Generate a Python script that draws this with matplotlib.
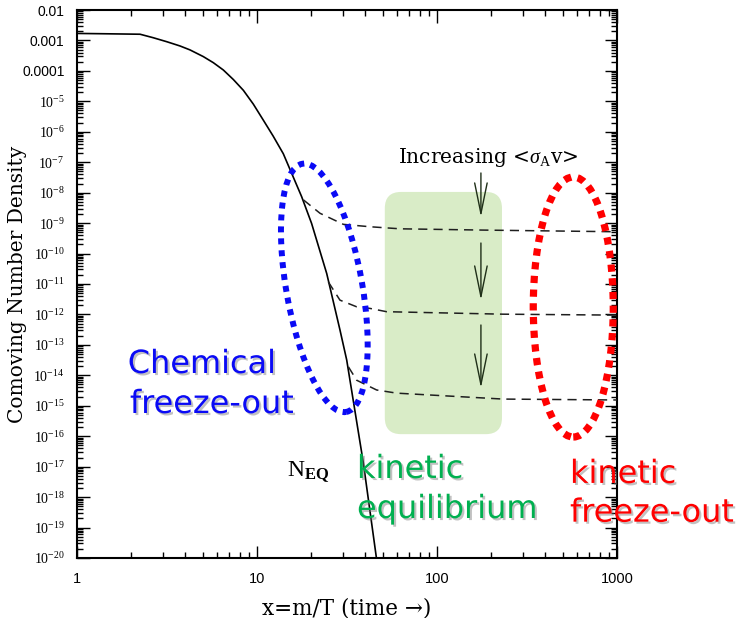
import numpy as np
import matplotlib
matplotlib.use("Agg")
import matplotlib.pyplot as plt
import matplotlib.patheffects as pe
from matplotlib.patches import Ellipse, FancyBboxPatch
from matplotlib.transforms import ScaledTranslation
from matplotlib.ticker import FixedLocator, LogLocator, NullFormatter

plt.rcParams['mathtext.fontset'] = 'custom'
plt.rcParams['mathtext.rm'] = 'Liberation Serif'
plt.rcParams['mathtext.it'] = 'Liberation Serif:italic'
plt.rcParams['mathtext.bf'] = 'Liberation Serif:bold'

# ---- data ----
x_eq = [1.0, 1.40, 2.24, 2.65, 3.15, 3.73, 4.24, 5.03, 5.72, 6.5, 7.39, 8.4, 9.54,
        10.8, 12.3, 14.0, 17.7, 20.1, 24.4, 28.9, 31.5, 39.0, 46.2]
y_eq = [1.7e-3, 1.66e-3, 1.6e-3, 1.23e-3, 9.1e-4, 6.6e-4, 4.9e-4, 2.95e-4, 1.86e-4,
        1.07e-4, 5.2e-5, 2.3e-5, 8.1e-6, 2.5e-6, 7.2e-7, 1.9e-7, 7.4e-9,
        9.8e-10, 2.2e-11, 3.1e-13, 3.2e-14, 1.3e-17, 8.9e-21]

x_fo1 = [18.1, 22.4, 30.2, 42.4, 62.3, 181.0, 1000.0]
y_fo1 = [5.8e-9, 2.1e-9, 9.1e-10, 7.6e-10, 6.5e-10, 5.9e-10, 5.2e-10]

x_fo2 = [24.9, 28.9, 35.8, 42.4, 52.5, 233.0, 1000.0]
y_fo2 = [1.17e-11, 2.95e-12, 1.78e-12, 1.58e-12, 1.23e-12, 1.02e-12, 9.5e-13]

x_fo3 = [32.2, 35.8, 46.2, 59.7, 233.0, 1000.0]
y_fo3 = [1.9e-14, 6.9e-15, 3.3e-15, 2.6e-15, 1.66e-15, 1.55e-15]

x_ticks = [1, 10, 100, 1000]
x_ticklabels = ['1', '10', '100', '1000']
y_exponents = list(range(-2, -21, -1))
y_ticklabels = ['0.01', '0.001', '0.0001'] + [r'$\mathrm{10^{%d}}$' % e for e in range(-5, -21, -1)]

# ---- figure ----
fig = plt.figure(figsize=(7.46, 6.18), dpi=100)
ax = fig.add_axes([77/746, 60/618, 540/746, 548/618])
ax.set_xscale('log')
ax.set_yscale('log')
ax.set_xlim(1, 1000)
ax.set_ylim(1e-20, 1e-2)

# green region
box = FancyBboxPatch((0.570, 0.226), 0.217, 0.442,
                     boxstyle="round,pad=0,rounding_size=0.03",
                     transform=ax.transAxes, facecolor='#d9ecc7', edgecolor='none', zorder=0.5)
ax.add_patch(box)

ax.plot(x_eq, y_eq, color='black', lw=1.2, zorder=3)
for xs, ys in [(x_fo1, y_fo1), (x_fo2, y_fo2), (x_fo3, y_fo3)]:
    ax.plot(xs, ys, color='#1e1e1e', lw=1.1, dashes=(6, 4), zorder=3)

# ticks
ax.xaxis.set_major_locator(FixedLocator(x_ticks))
ax.set_xticklabels(x_ticklabels, fontfamily='Liberation Sans', fontsize=10.5)
ax.xaxis.set_minor_locator(LogLocator(base=10, subs=np.arange(2, 10), numticks=20))
ax.xaxis.set_minor_formatter(NullFormatter())
ax.yaxis.set_major_locator(FixedLocator([10.0**e for e in y_exponents]))
ax.set_yticklabels(y_ticklabels, fontfamily='Liberation Sans', fontsize=10)
ax.yaxis.set_minor_locator(LogLocator(base=10, subs=np.arange(2, 10), numticks=40))
ax.yaxis.set_minor_formatter(NullFormatter())
ax.tick_params(which='both', direction='in', top=True, right=True, width=1.0)
ax.tick_params(which='major', length=9)
ax.tick_params(which='minor', length=4.5)
ax.tick_params(axis='x', which='major', pad=10)
ax.tick_params(axis='y', which='major', pad=9)
for s in ax.spines.values():
    s.set_linewidth(1.5)

ax.set_xlabel('x=m/T (time \u2192)', fontfamily='DejaVu Serif', fontsize=15.5, labelpad=8)
ax.set_ylabel('Comoving Number Density', fontfamily='DejaVu Serif', fontsize=14.5)
ax.yaxis.set_label_coords(-0.0926, 0.5)

# annotations
ax.text(0.594, 0.721, r'Increasing <$\sigma_{\mathrm{A}}$v>', transform=ax.transAxes,
        fontfamily='DejaVu Serif', fontsize=14.5, va='baseline', ha='left', zorder=5)
ax.text(0.389, 0.148, r'$\mathrm{N}_{\mathbf{EQ}}$', transform=ax.transAxes,
        fontsize=17, va='baseline', ha='left', zorder=5)

arrow_segments = [(0.7026, 0.6223), (0.5748, 0.4708), (0.4252, 0.3102)]
for y0, y1 in arrow_segments:
    ax.annotate('', xy=(0.748, y1), xytext=(0.748, y0), xycoords='axes fraction',
                arrowprops=dict(arrowstyle='->,head_length=2.2,head_width=0.45',
                                color='#1f2f18', lw=1.0, shrinkA=0, shrinkB=0), zorder=5)

# ellipses (sizes in inches, centred in axes fraction)
def ell(cx, cy, w, h, ang, color, lw, dash):
    tr = fig.dpi_scale_trans + ScaledTranslation(cx, cy, ax.transAxes)
    e = Ellipse((0, 0), w, h, angle=ang, transform=tr, fill=False,
                edgecolor=color, lw=lw, linestyle=(0, dash), zorder=6, clip_on=False)
    e.set_capstyle('butt')
    ax.add_patch(e)

ell(0.458, 0.493, 0.76, 2.52, 10, '#0a0af5', 4.3, (1, 1))
ell(0.919, 0.458, 0.80, 2.60, 0, '#ff0000', 5.2, (1, 0.9))

shadow = [pe.SimplePatchShadow(offset=(1.5, -1.5), shadow_rgbFace='#777777', alpha=0.45), pe.Normal()]
def label(x, y, s, color):
    ax.text(x, y, s, transform=ax.transAxes, fontfamily='DejaVu Sans', fontsize=23,
            color=color, va='baseline', ha='left', path_effects=shadow, zorder=7)

label(0.094, 0.3376, 'Chemical', '#0a0af5')
label(0.098, 0.2646, 'freeze-out', '#0a0af5')
label(0.5185, 0.146, 'kinetic', '#00b050')
label(0.5185, 0.073, 'equilibrium', '#00b050')
label(0.913, 0.137, 'kinetic', '#ff0000')
label(0.913, 0.0663, 'freeze-out', '#ff0000')

fig.savefig('out.png', dpi=100)
